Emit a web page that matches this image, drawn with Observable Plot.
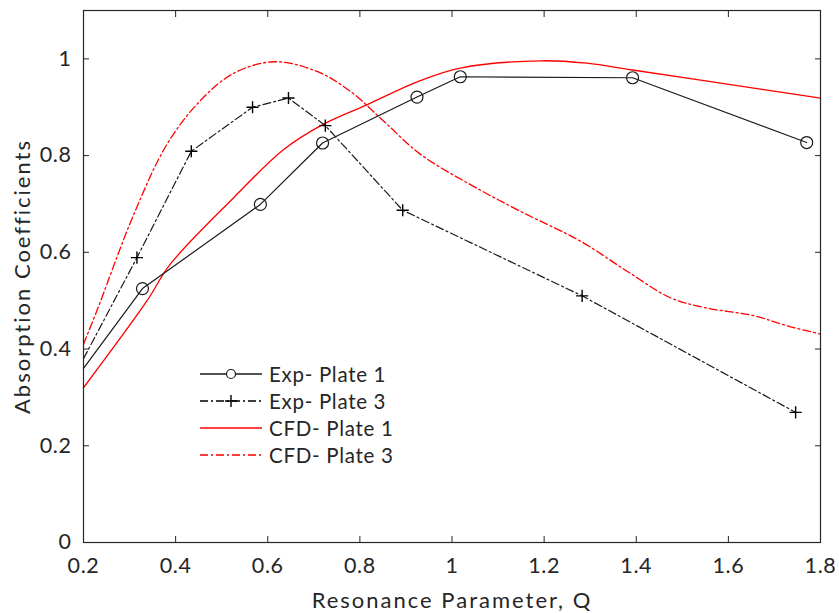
<!DOCTYPE html>
<html>
<head>
<meta charset="utf-8">
<script src="https://cdn.jsdelivr.net/npm/d3@7"></script>
<script src="https://cdn.jsdelivr.net/npm/@observablehq/plot@0.6"></script>
<style>
  body { margin: 0; background: #fff; }
  #wrap { position: relative; width: 839px; height: 613px; font-family: Lato, "Open Sans", sans-serif; }
  #legend { position: absolute; left: 200px; top: 360px; color: #262626; font-size: 20.5px; letter-spacing: 0.7px; }
  #legend .row { display: flex; align-items: center; height: 27.2px; }
  #legend svg { margin-right: 7px; }
</style>
</head>
<body>
<div id="wrap"><div id="legend"></div></div>
<script>
// Exp- Plate 1 (circles)
const expP1Q = [0.2, 0.328, 0.584, 0.719, 0.924, 1.018, 1.392, 1.770];
const expP1A = [0.36, 0.525, 0.699, 0.826, 0.921, 0.963, 0.961, 0.827];
// Exp- Plate 3 (plus)
const expP3Q = [0.2, 0.316, 0.434, 0.567, 0.645, 0.725, 0.893, 1.2825, 1.746];
const expP3A = [0.38, 0.589, 0.809, 0.900, 0.919, 0.862, 0.687, 0.510, 0.269];
// CFD- Plate 1
const cfdP1Q = [0.2, 0.338, 0.388, 0.526, 0.634, 0.719, 0.815, 0.931, 1.018, 1.192, 1.293, 1.392, 1.583, 1.8];
const cfdP1A = [0.320, 0.500, 0.575, 0.713, 0.812, 0.864, 0.905, 0.955, 0.981, 0.996, 0.991, 0.977, 0.950, 0.919];
// CFD- Plate 3
const cfdP3Q = [0.2, 0.229, 0.309, 0.381, 0.453, 0.526, 0.613, 0.707, 0.779, 0.852, 0.931, 1.040, 1.148, 1.279, 1.380, 1.474, 1.547, 1.655, 1.728, 1.8];
const cfdP3A = [0.410, 0.479, 0.678, 0.823, 0.913, 0.970, 0.994, 0.974, 0.933, 0.871, 0.803, 0.740, 0.685, 0.623, 0.561, 0.506, 0.486, 0.469, 0.448, 0.431];

const xTicks = [0.2, 0.4, 0.6, 0.8, 1, 1.2, 1.4, 1.6, 1.8];
const yTicks = [0, 0.2, 0.4, 0.6, 0.8, 1];
const seriesNames = ["Exp- Plate 1", "Exp- Plate 3", "CFD- Plate 1", "CFD- Plate 3"];
const xLabel = "Resonance Parameter, Q";
const yLabel = "Absorption Coefficients";

const toRows = (qs, as) => qs.map((q, i) => ({q, a: as[i]}));
const e1 = toRows(expP1Q, expP1A);
const e3 = toRows(expP3Q, expP3A);
const c1 = toRows(cfdP1Q, cfdP1A);
const c3 = toRows(cfdP3Q, cfdP3A);

const ink = "#262626";
const dashBlack = "8,3,2,3";
const dashRed = "8,3,2,3";

const chart = Plot.plot({
  width: 839,
  height: 613,
  marginLeft: 83,
  marginRight: 19,
  marginTop: 10,
  marginBottom: 71,
  style: {fontFamily: "Lato, 'Open Sans', sans-serif", background: "#fff"},
  x: {domain: [0.2, 1.8]},
  y: {domain: [0, 1.1]},
  marks: [
    Plot.line(c3, {x: "q", y: "a", stroke: "#ff0000", strokeWidth: 1.3, strokeDasharray: dashRed, curve: "catmull-rom"}),
    Plot.line(c1, {x: "q", y: "a", stroke: "#ff0000", strokeWidth: 1.3, curve: "catmull-rom"}),
    Plot.line(e3, {x: "q", y: "a", stroke: "#1a1a1a", strokeWidth: 1.2, strokeDasharray: dashBlack}),
    Plot.line(e1, {x: "q", y: "a", stroke: "#1a1a1a", strokeWidth: 1.2}),
    Plot.dot(e1.slice(1), {x: "q", y: "a", r: 6, stroke: "#1a1a1a", strokeWidth: 1.2, fill: "none"}),
    Plot.dot(e3.slice(1), {x: "q", y: "a", r: 4, symbol: "plus", stroke: "#000", strokeWidth: 1.4}),
    Plot.axisX(xTicks, {anchor: "bottom", tickSize: -6, tickPadding: 21, fontSize: 21.5, color: ink, label: null, tickFormat: d => String(d)}),
    Plot.axisX(xTicks, {anchor: "top", tickSize: -6, color: ink, label: null, tickFormat: () => ""}),
    Plot.axisY(yTicks, {anchor: "left", tickSize: -6, tickPadding: 18, fontSize: 21.5, color: ink, label: null, tickFormat: d => String(d)}),
    Plot.axisY(yTicks, {anchor: "right", tickSize: -6, color: ink, label: null, tickFormat: () => ""}),
    Plot.frame({stroke: ink, strokeWidth: 1.2}),
    Plot.text([xLabel], {frameAnchor: "bottom", dy: 65, fontSize: 22, fill: ink, textAnchor: "middle"}),
    Plot.text([yLabel], {frameAnchor: "left", dx: -61, rotate: -90, fontSize: 22, fill: ink, textAnchor: "middle"})
  ]
});
const wrap = document.getElementById("wrap");
wrap.insertBefore(chart, wrap.firstChild);
chart.querySelectorAll("text").forEach(t => {
  if (t.textContent === yLabel || t.textContent === xLabel) t.style.letterSpacing = "2px";
});
chart.querySelectorAll("[aria-label='x-axis tick label'] text, [aria-label='y-axis tick label'] text").forEach(t => t.style.letterSpacing = "0.6px");

// Legend
const legendSpecs = [
  {name: seriesNames[0], stroke: "#1a1a1a", dash: null, marker: "circle"},
  {name: seriesNames[1], stroke: "#000", dash: dashBlack, marker: "plus"},
  {name: seriesNames[2], stroke: "#ff0000", dash: null, marker: null},
  {name: seriesNames[3], stroke: "#ff0000", dash: dashRed, marker: null}
];
const legend = d3.select("#legend");
for (const s of legendSpecs) {
  const row = legend.append("div").attr("class", "row");
  const svg = row.append("svg").attr("width", 62).attr("height", 20);
  svg.append("line").attr("x1", 0).attr("x2", 62).attr("y1", 10).attr("y2", 10)
    .attr("stroke", s.stroke).attr("stroke-width", 1.3).attr("stroke-dasharray", s.dash);
  if (s.marker === "circle") {
    svg.append("circle").attr("cx", 31).attr("cy", 10).attr("r", 4.5).attr("fill", "#fff").attr("stroke", s.stroke).attr("stroke-width", 1.2);
  } else if (s.marker === "plus") {
    svg.append("path").attr("d", "M25,10H37M31,4V16").attr("stroke", s.stroke).attr("stroke-width", 1.4);
  }
  row.append("span").text(s.name);
}
</script>
</body>
</html>
